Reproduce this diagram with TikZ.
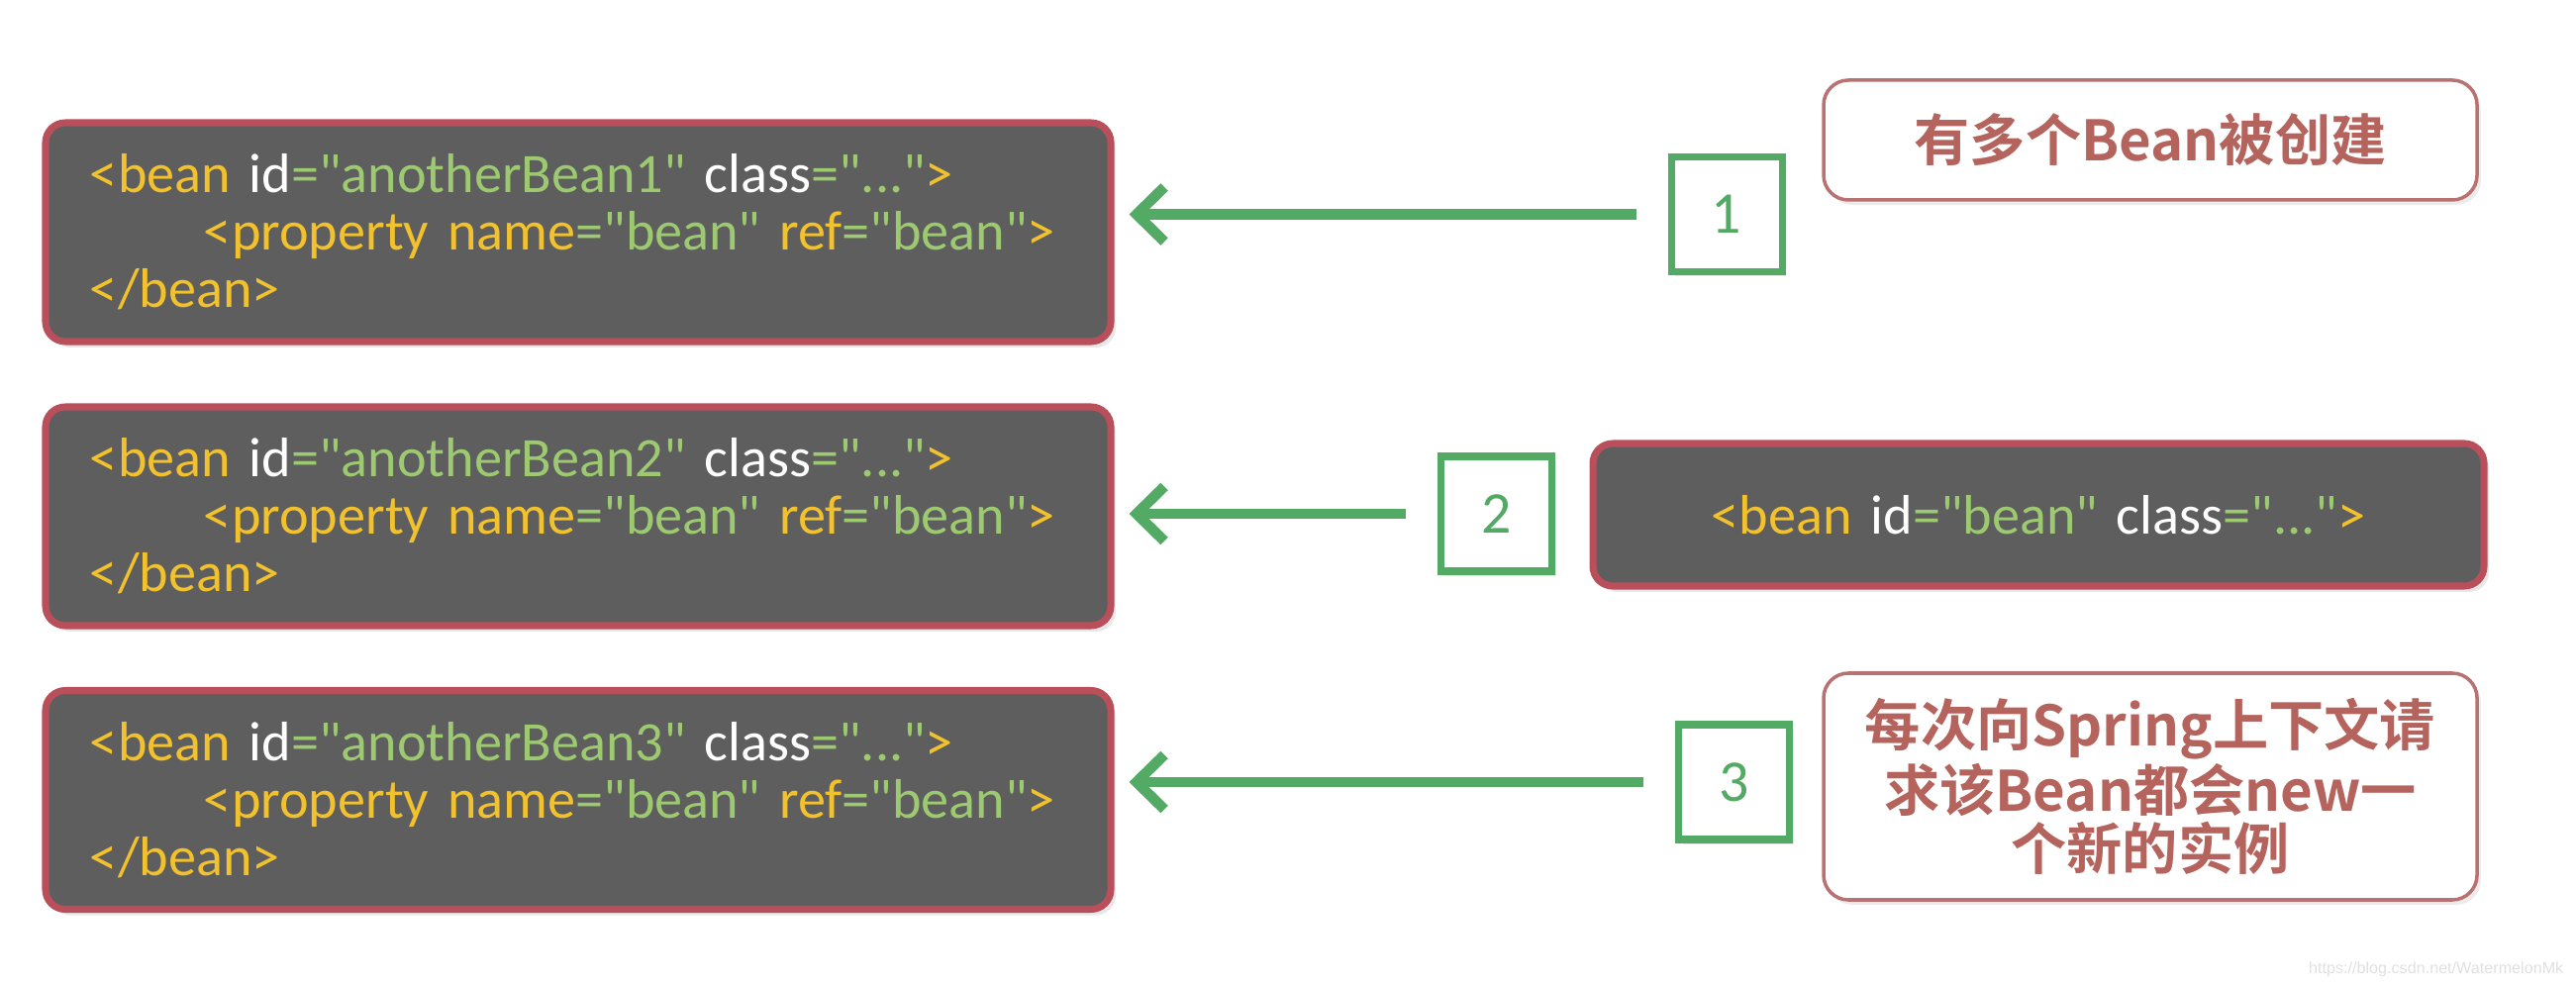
\documentclass[tikz,border=0pt]{standalone}
\usepackage{fontspec}
\newfontfamily\codefont{Carlito}
\newfontfamily\cjk{Noto Sans CJK SC}[BoldFont={Noto Sans CJK SC Bold}]
\newfontfamily\wmfont{Liberation Sans}
\usepackage{xcolor}
\usetikzlibrary{arrows.meta,shadows}
\definecolor{codebg}{HTML}{5E5E5E}
\definecolor{codeline}{HTML}{B84F5B}
\definecolor{tagc}{HTML}{F2C12E}
\definecolor{strc}{HTML}{9DC970}
\definecolor{linkgreen}{HTML}{52AA64}
\definecolor{notetext}{HTML}{B5635D}
\definecolor{noteline}{HTML}{B87272}
\newcommand\tg[1]{\textcolor{tagc}{#1}}
\newcommand\sv[1]{\textcolor{strc}{#1}}
\newcommand\at[1]{\textcolor{white}{#1}}

\begin{document}
\begin{tikzpicture}[
    code/.style={draw=codeline, fill=codebg, rounded corners=0.2cm,
      line width=2pt, minimum width=10.76cm, minimum height=2.21cm,
      text width=9.86cm, inner xsep=0.45cm, align=left,
      font=\codefont\fontsize{16}{16.5}\selectfont,
      drop shadow={opacity=0.18, shadow xshift=0.05cm, shadow yshift=-0.06cm}},
    single/.style={code, minimum width=9.0cm, minimum height=1.44cm,
      text width=8.1cm, align=center},
    num/.style={draw=linkgreen, fill=white, line width=2pt, text=linkgreen,
      minimum width=1.12cm, minimum height=1.16cm, inner sep=0pt,
      font=\codefont\fontsize{17}{20}\selectfont,
      drop shadow={opacity=0.18, shadow xshift=0.04cm, shadow yshift=-0.05cm}},
    note/.style={draw=noteline, fill=white, rounded corners=0.25cm,
      line width=1pt, minimum width=6.6cm, text width=5.9cm, align=center,
      text=notetext, font=\cjk\bfseries\fontsize{16}{16.8}\selectfont,
      drop shadow={opacity=0.15, shadow xshift=0.04cm, shadow yshift=-0.05cm}},
    link/.style={-{Straight Barb[length=0.28cm, width=0.55cm]},
      draw=linkgreen, line width=3pt, shorten <=0.32cm, shorten >=0.15cm},
  ]
  \useasboundingbox (0,0) rectangle (26.02,9.96);

  % bean definitions on the left
  \node[code] (b1) at (5.84,7.615) {\tg{<bean} \at{id}\sv{="anotherBean1"} \at{class}\sv{="..."}\tg{>}\\
    \hspace*{1.15cm}\tg{<property name}\sv{="bean"} \tg{ref}\sv{="bean"}\tg{>}\\
    \tg{</bean>}};
  \node[code] (b2) at (5.84,4.745) {\tg{<bean} \at{id}\sv{="anotherBean2"} \at{class}\sv{="..."}\tg{>}\\
    \hspace*{1.15cm}\tg{<property name}\sv{="bean"} \tg{ref}\sv{="bean"}\tg{>}\\
    \tg{</bean>}};
  \node[code] (b3) at (5.84,1.88) {\tg{<bean} \at{id}\sv{="anotherBean3"} \at{class}\sv{="..."}\tg{>}\\
    \hspace*{1.15cm}\tg{<property name}\sv{="bean"} \tg{ref}\sv{="bean"}\tg{>}\\
    \tg{</bean>}};

  % numbered steps
  \node[num] (s1) at (17.44,7.795) {1};
  \node[num] (s2) at (15.115,4.77) {2};
  \node[num] (s3) at (17.515,2.06) {3};

  \draw[link] (s1) -- (b1.east |- s1);
  \draw[link] (s2) -- (b2.east |- s2);
  \draw[link] (s3) -- (b3.east |- s3);

  % notes on the right
  \node[note, minimum height=1.21cm] (n1) at (21.72,8.545) {有多个Bean被创建};
  \node[single] (bean) at (20.59,4.76) {\tg{<bean} \at{id}\sv{="bean"} \at{class}\sv{="..."}\tg{>}};
  \node[note, minimum height=2.29cm] (n3) at (21.72,2.015)
    {每次向Spring上下文请\\求该Bean都会new一\\个新的实例};

  \node[anchor=east, text=black!12, inner sep=0pt, font=\wmfont\fontsize{4.6}{5}\selectfont]
    (wm) at (25.9,0.17) {https://blog.csdn.net/WatermelonMk};
\end{tikzpicture}
\end{document}
